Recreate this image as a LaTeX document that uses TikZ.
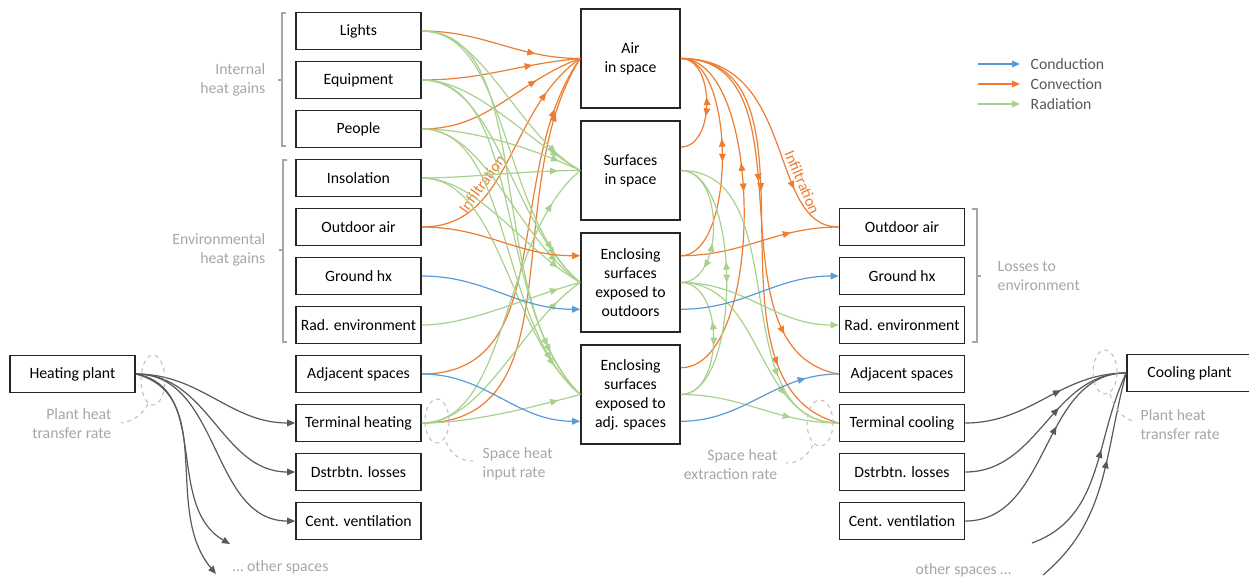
\documentclass[tikz,border=0pt]{standalone}
\usepackage{fontspec}
\setmainfont{Carlito}
\usetikzlibrary{arrows.meta,decorations.markings}

\definecolor{condc}{HTML}{5B9BD5}
\definecolor{convc}{HTML}{ED7D31}
\definecolor{radc}{HTML}{A9D18E}
\definecolor{plantc}{HTML}{595959}
\definecolor{notec}{HTML}{A6A6A6}
\definecolor{ringc}{HTML}{BFBFBF}

\tikzset{
  >={Triangle[length=6pt,width=5pt]},
  box/.style={draw=black!85, line width=1.3pt, minimum width=93.75pt, minimum height=27.75pt, inner sep=1pt},
  core/.style={draw=black!85, line width=1.3pt, minimum width=74.25pt, minimum height=74.25pt, inner sep=1pt, align=center},
  cond/.style={color=condc, line width=.9pt},
  conv/.style={color=convc, line width=.9pt},
  rad/.style={color=radc, line width=.9pt},
  plant/.style={color=plantc, line width=.9pt},
  note/.style={text=notec},
  brace/.style={draw=notec, line width=.8pt},
  ring/.style={draw=ringc, dashed, line width=.8pt},
  arrowat/.style={postaction={decorate}, decoration={markings, mark=at position #1 with {\arrow{>}}}},
  arrowsat/.style 2 args={postaction={decorate}, decoration={markings, mark=at position #1 with {\arrow{>}}, mark=at position #2 with {\arrow{>}}}},
  twoway/.style 2 args={postaction={decorate}, decoration={markings, mark=at position #1 with {\arrowreversed{>}}, mark=at position #2 with {\arrow{>}}}},
}

\begin{document}
\begin{tikzpicture}
[x=.75pt, y=.75pt, font=\fontsize{11.8}{14.3}\selectfont]
\useasboundingbox (0,0) rectangle (1249,-577);

% sources
\node[box] (l1) at (358.5,-31) {Lights};
\node[box] (l2) at (358.5,-80) {Equipment};
\node[box] (l3) at (358.5,-129) {People};
\node[box] (l4) at (358.5,-178) {Insolation};
\node[box] (l5) at (358.5,-227) {Outdoor air};
\node[box] (l6) at (358.5,-276) {Ground hx};
\node[box] (l7) at (358.5,-325) {Rad. environment};
\node[box] (l8) at (358.5,-374) {Adjacent spaces};
\node[box] (l9) at (358.5,-423) {Terminal heating};
\node[box] (l10) at (358.5,-472) {Dstrbtn. losses};
\node[box] (l11) at (358.5,-521) {Cent. ventilation};

% space
\node[core] (c1) at (630.5,-58.5) {Air\\in space};
\node[core] (c2) at (630.5,-170.5) {Surfaces\\in space};
\node[core] (c3) at (630.5,-282.5) {Enclosing\\surfaces\\exposed to\\outdoors};
\node[core] (c4) at (630.5,-394.5) {Enclosing\\surfaces\\exposed to\\adj. spaces};

% sinks
\node[box] (r1) at (902,-227) {Outdoor air};
\node[box] (r2) at (902,-276) {Ground hx};
\node[box] (r3) at (902,-325) {Rad. environment};
\node[box] (r4) at (902,-374) {Adjacent spaces};
\node[box] (r5) at (902,-423) {Terminal cooling};
\node[box] (r6) at (902,-472) {Dstrbtn. losses};
\node[box] (r7) at (902,-521) {Cent. ventilation};

\node[box] (hp) at (72.5,-374) {Heating plant};
\node[box] (cp) at (1189.5,-373) {Cooling plant};

\coordinate (o1) at (230,-544);
\coordinate (o2) at (216,-574);
\coordinate (o3) at (1032,-543);
\coordinate (o4) at (1043,-575);

% group labels
\draw[brace] (286,-13) -- (282,-13) -- (282,-146) -- (286,-146);
\draw[brace] (282,-80) -- (278,-80);
\draw[brace] (287,-160) -- (283,-160) -- (283,-342) -- (287,-342);
\draw[brace] (283,-250) -- (279,-250);
\draw[brace] (972,-209) -- (977,-209) -- (977,-342) -- (972,-342);
\draw[brace] (977,-276) -- (981,-276);
\node[note, anchor=east, align=right] (g1) at (270,-80) {Internal\\heat gains};
\node[note, anchor=east, align=right] (g2) at (270,-250) {Environmental\\heat gains};
\node[note, anchor=west, align=left] (g3) at (993,-276) {Losses to\\environment};

% left side
\foreach \from/\ang/\p in {l1/180/0.72, l2/185/0.7, l3/200/0.72, l8/235/0.85, l9/238/0.86}
\draw[conv, arrowat=\p] (\from.east) to[out=0,in=\ang] (c1.west);
\draw[conv, arrowat=0.8] (l5.east) to[out=0,in=215] (c1.west);
\path (l5.east) to[out=0,in=215] node[sloped, above, pos=0.36, text=convc] (f1) {Infiltration} (c1.west);

\foreach \from/\to/\ang in {l1/c2/150, l2/c2/150, l3/c2/155, l4/c2/180, l9/c2/220,
  l1/c3/140, l2/c3/140, l3/c3/145, l4/c3/150, l7/c3/195, l9/c3/215,
  l1/c4/135, l2/c4/135, l3/c4/140, l4/c4/140, l9/c4/195}
\draw[rad, arrowat=0.86] (\from.east) to[out=0,in=\ang,out looseness=0.75,in looseness=0.9] (\to.west);

\draw[conv, ->] (l5.east) to[out=0,in=180] (c3.152);
\draw[cond, ->] (l6.east) to[out=0,in=180] (c3.208);
\draw[cond, ->] (l8.east) to[out=0,in=180] (c4.208);

% right side
\draw[conv, arrowat=0.75] (c1.east) to[out=0,in=180,out looseness=1.3,in looseness=0.8] (r1.west);
\path (c1.east) to[out=0,in=180,out looseness=1.3,in looseness=0.8] node[sloped, above, pos=0.68, text=convc] (f2) {Infiltration} (r1.west);
\draw[conv, arrowsat={0.42}{0.82}] (c1.east) to[out=0,in=170] (r4.west);
\draw[conv, arrowsat={0.4}{0.8}] (c1.east) to[out=0,in=165] (r5.west);
\draw[conv, twoway={0.45}{0.62}] (c1.east) to[out=0,in=0] (c2.25);
\draw[conv, twoway={0.42}{0.52}, looseness=0.72] (c1.east) to[out=0,in=0] (c3.28);
\draw[conv, twoway={0.36}{0.44}, looseness=0.7] (c1.east) to[out=0,in=0] (c4.28);
\draw[conv, arrowat=0.7] (c3.28) to[out=0,in=180] (r1.west);

\draw[rad, twoway={0.62}{0.8}] (c2.east) to[out=0,in=0] (c3.east);
\draw[rad, twoway={0.42}{0.5}, looseness=0.7] (c2.east) to[out=0,in=0] (c4.east);
\draw[rad, twoway={0.38}{0.55}] (c3.east) to[out=0,in=0] (c4.east);
\foreach \from/\p in {c2/0.75, c3/0.72, c4/0.7}
\draw[rad, arrowat=\p] (\from.east) to[out=0,in=180] (r5.west);
\draw[rad, ->] (c3.east) to[out=0,in=180] (r3.west);

\draw[cond, ->] (c3.332) to[out=0,in=180] (r2.west);
\draw[cond, arrowat=0.8] (c4.332) to[out=0,in=180] (r4.west);

% plants
\foreach \to in {l9,l10,l11}
\draw[plant, ->] (hp.east) to[out=0,in=180] (\to.west);
\draw[plant, ->] (hp.east) to[out=-10,in=150] (o1);
\draw[plant, ->] (hp.east) to[out=-15,in=130] (o2);
\foreach \from in {r5,r6,r7}
\draw[plant, arrowat=0.6] (\from.east) to[out=0,in=180] (cp.west);
\draw[plant, arrowat=0.6] (o3) to[out=20,in=245] (cp.west);
\draw[plant, arrowat=0.6] (o4) to[out=40,in=255] (cp.west);

\node[note, anchor=west] (g4) at (228,-567) {… other spaces};
\node[note, anchor=east] (g5) at (1016,-570) {other spaces …};

% rates
\draw[ring] (153,-380) ellipse [x radius=12, y radius=25];
\draw[ring] (148,-404) .. controls (142,-415) and (134,-421) .. (121,-423);
\node[note, anchor=east, align=right] (g6) at (116,-424) {Plant heat\\transfer rate};
\draw[ring] (437,-421) ellipse [x radius=12, y radius=22];
\draw[ring] (446,-442) .. controls (452,-455) and (460,-461) .. (473,-461);
\node[note, anchor=west, align=left] (g7) at (478,-464) {Space heat\\input rate};
\draw[ring] (820,-423) ellipse [x radius=13, y radius=23];
\draw[ring] (813,-445) .. controls (806,-458) and (798,-463) .. (786,-463);
\node[note, anchor=east, align=right] (g8) at (782,-465) {Space heat\\extraction rate};
\draw[ring] (1105,-372) ellipse [x radius=12, y radius=22];
\draw[ring] (1110,-394) .. controls (1114,-408) and (1122,-418) .. (1133,-421);
\node[note, anchor=west, align=left] (g9) at (1136,-425) {Plant heat\\transfer rate};

% legend
\foreach \i/\sty/\txt/\y in {1/cond/Conduction/64, 2/conv/Convection/84, 3/rad/Radiation/104}{
\coordinate (k\i) at (978,-\y);
\coordinate (e\i) at (1020,-\y);
\draw[\sty, ->] (k\i) -- (e\i);
\node[anchor=west, text=plantc] (t\i) at (1026,-\y) {\txt};
}
\end{tikzpicture}
\end{document}
